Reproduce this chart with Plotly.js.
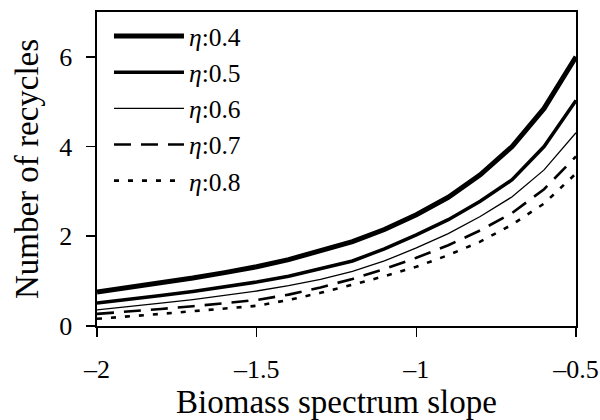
<!DOCTYPE html>
<html>
<head>
<meta charset="utf-8">
<script src="https://cdn.plot.ly/plotly-3.0.1.min.js"></script>
<style>html,body{margin:0;padding:0;background:#fff;}#chart{width:600px;height:420px;}</style>
</head>
<body>
<div id="chart"></div>
<script>
const slope = [-2, -1.9, -1.8, -1.7, -1.6, -1.5, -1.4, -1.3, -1.2, -1.1, -1.0, -0.9, -0.8, -0.7, -0.6, -0.5];
const eta04 = [0.76, 0.86, 0.96, 1.07, 1.19, 1.32, 1.48, 1.67, 1.88, 2.15, 2.48, 2.87, 3.37, 4.0, 4.85, 6.0];
const eta05 = [0.51, 0.59, 0.68, 0.77, 0.87, 0.98, 1.11, 1.27, 1.45, 1.72, 2.03, 2.37, 2.78, 3.26, 4.0, 5.03];
const eta06 = [0.36, 0.43, 0.51, 0.59, 0.68, 0.78, 0.90, 1.04, 1.22, 1.45, 1.74, 2.06, 2.44, 2.88, 3.48, 4.31];
const eta07 = [0.27, 0.32, 0.38, 0.44, 0.51, 0.58, 0.70, 0.86, 1.05, 1.27, 1.52, 1.80, 2.13, 2.52, 3.05, 3.78];
const eta08 = [0.16, 0.21, 0.27, 0.33, 0.39, 0.45, 0.58, 0.74, 0.92, 1.11, 1.32, 1.58, 1.88, 2.26, 2.73, 3.40];
const seriesNames = ['<i>η</i>:0.4', '<i>η</i>:0.5', '<i>η</i>:0.6', '<i>η</i>:0.7', '<i>η</i>:0.8'];
const xTickVals = [-2, -1.5, -1, -0.5];
const xTickText = ['–2', '–1.5', '–1', '–0.5'];
const yTickVals = [0, 2, 4, 6];
const yTickText = ['0', '2', '4', '6'];

const styles = [
  {width: 5, dash: 'solid'},
  {width: 3.5, dash: 'solid'},
  {width: 1.3, dash: 'solid'},
  {width: 2.6, dash: '17px,10px'},
  {width: 2.6, dash: '5px,9px'}
];
const ys = [eta04, eta05, eta06, eta07, eta08];
const traces = ys.map((y, i) => ({
  x: slope, y: y, type: 'scatter', mode: 'lines',
  name: seriesNames[i], legendgroup: 'g' + i,
  line: {color: '#000', width: styles[i].width, dash: styles[i].dash, shape: 'linear'}
}));

const font = 'Liberation Serif';
const layout = {
  width: 600, height: 420,
  margin: {l: 97, r: 24, t: 12, b: 94},
  paper_bgcolor: '#fff', plot_bgcolor: '#fff',
  font: {family: font, color: '#000', size: 26},
  showlegend: true,
  legend: {
    x: 0.025, y: 0.997, xanchor: 'left', yanchor: 'top',
    bgcolor: 'rgba(0,0,0,0)', borderwidth: 0,
    font: {family: font, size: 25.5, color: '#000'},
    itemwidth: 70, tracegroupgap: 0, traceorder: 'grouped'
  },
  xaxis: {
    range: [-2, -0.5], tickvals: xTickVals, ticktext: xTickText,
    showline: true, linecolor: '#000', linewidth: 1.6, mirror: true,
    ticks: 'outside', ticklen: 9, tickwidth: 1.6, tickcolor: '#000',
    ticklabelstandoff: 10,
    showgrid: false, zeroline: false,
    tickfont: {family: font, size: 26, color: '#000'},
    title: {text: 'Biomass spectrum slope', font: {family: font, size: 33, color: '#000'}, standoff: 10}
  },
  yaxis: {
    range: [0, 7], tickvals: yTickVals, ticktext: yTickText,
    showline: true, linecolor: '#000', linewidth: 1.6, mirror: true,
    ticks: 'outside', ticklen: 9, tickwidth: 1.6, tickcolor: '#000',
    ticklabelstandoff: 9,
    showgrid: false, zeroline: false,
    tickfont: {family: font, size: 26, color: '#000'},
    title: {text: 'Number of recycles', font: {family: font, size: 33, color: '#000'}, standoff: 10}
  }
};
Plotly.newPlot('chart', traces, layout, {displayModeBar: false, staticPlot: true});
</script>
</body>
</html>
